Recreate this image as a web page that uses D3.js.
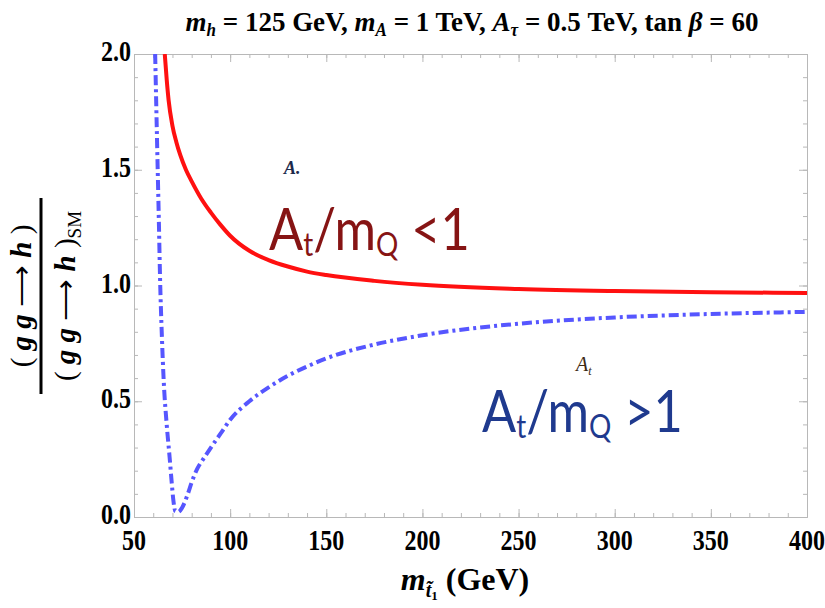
<!DOCTYPE html>
<html>
<head>
<meta charset="utf-8">
<script src="https://cdn.jsdelivr.net/npm/d3@7"></script>
<style>
  body { margin: 0; background: #fff; }
  svg text { font-family: "Liberation Serif", "Times New Roman", serif; }
  .frame line, .frame path { stroke: #b8b8b8; }
</style>
</head>
<body>
<div id="chart"></div>
<script>
// ratio vs stop mass
const redX = [66, 67, 68, 70, 72, 74, 77, 80, 85, 90, 95, 100, 110, 120, 130, 140, 150, 175, 200, 250, 300, 350, 400];
const redY = [2.0, 1.89, 1.80, 1.69, 1.62, 1.565, 1.50, 1.45, 1.375, 1.315, 1.262, 1.215, 1.15, 1.11, 1.082, 1.06, 1.045, 1.02, 1.003, 0.985, 0.976, 0.971, 0.968];

const blueX = [61, 62, 63, 63.5, 64.5, 65.5, 67, 68.5, 69.5, 70.5, 71.5, 73, 75, 78, 80, 83, 86, 90, 95, 100, 110, 120, 130, 140, 150, 175, 200, 250, 300, 350, 400];
const blueY = [2.0, 1.62, 1.25, 1.05, 0.78, 0.58, 0.40, 0.26, 0.16, 0.07, 0.025, 0.022, 0.04, 0.10, 0.15, 0.21, 0.25, 0.30, 0.36, 0.42, 0.50, 0.56, 0.61, 0.65, 0.685, 0.745, 0.785, 0.835, 0.862, 0.877, 0.886];

const xTicks = [50, 100, 150, 200, 250, 300, 350, 400];
const yTicks = [0.0, 0.5, 1.0, 1.5, 2.0];

const c = {svgW: 825, svgH: 608, pad: {l: 134, r: 18, t: 54, b: 91}};
const W = c.svgW - c.pad.l - c.pad.r;
const H = c.svgH - c.pad.t - c.pad.b;

const svg = d3.select('#chart').append('svg')
  .attr('width', c.svgW)
  .attr('height', c.svgH);

const chart = svg.append('g')
  .attr('transform', `translate(${c.pad.l}, ${c.pad.t})`);

const x = d3.scaleLinear().domain([50, 400]).range([0, W]);
const y = d3.scaleLinear().domain([0, 2]).range([H, 0]);

// frame with inward ticks on all four sides (minor + major)
const minorX = d3.range(50, 401, 10);
const minorY = d3.range(0, 2.001, 0.1);

const frame = chart.append('g').classed('frame', true);
const addAxis = (axis, tr) => frame.append('g').attr('transform', tr).call(axis)
  .call(g => g.selectAll('text').remove());

addAxis(d3.axisBottom(x).tickValues(minorX).tickSize(-4).tickSizeOuter(0), `translate(0, ${H})`);
addAxis(d3.axisBottom(x).tickValues(xTicks).tickSize(-8).tickSizeOuter(0), `translate(0, ${H})`);
addAxis(d3.axisTop(x).tickValues(minorX).tickSize(-4).tickSizeOuter(0), 'translate(0, 0)');
addAxis(d3.axisTop(x).tickValues(xTicks).tickSize(-8).tickSizeOuter(0), 'translate(0, 0)');
addAxis(d3.axisLeft(y).tickValues(minorY).tickSize(-4).tickSizeOuter(0), 'translate(0, 0)');
addAxis(d3.axisLeft(y).tickValues(yTicks).tickSize(-8).tickSizeOuter(0), 'translate(0, 0)');
addAxis(d3.axisRight(y).tickValues(minorY).tickSize(-4).tickSizeOuter(0), `translate(${W}, 0)`);
addAxis(d3.axisRight(y).tickValues(yTicks).tickSize(-8).tickSizeOuter(0), `translate(${W}, 0)`);

// tick labels (bold, slightly tall like the original)
chart.append('g').selectAll('text')
  .data(xTicks)
  .join('text')
  .attr('transform', d => `translate(${x(d)}, ${H + 33}) scale(1, 1.25)`)
  .attr('text-anchor', 'middle')
  .attr('font-size', 24)
  .attr('font-weight', 'bold')
  .text(d => d);

chart.append('g').selectAll('text')
  .data(yTicks)
  .join('text')
  .attr('transform', d => `translate(-3, ${y(d) + 7}) scale(1, 1.2)`)
  .attr('text-anchor', 'end')
  .attr('font-size', 24)
  .attr('font-weight', 'bold')
  .text(d => d.toFixed(1));

// curves
chart.append('clipPath').attr('id', 'plot-clip')
  .append('rect').attr('width', W).attr('height', H);

const line = d3.line()
  .x(d => x(d[0]))
  .y(d => y(d[1]))
  .curve(d3.curveMonotoneX);

chart.append('path')
  .datum(d3.zip(blueX, blueY))
  .attr('clip-path', 'url(#plot-clip)')
  .attr('fill', 'none')
  .attr('stroke', '#5656ff')
  .attr('stroke-width', 4)
  .attr('stroke-dasharray', '10,4,3,4')
  .attr('d', line);

chart.append('path')
  .datum(d3.zip(redX, redY))
  .attr('clip-path', 'url(#plot-clip)')
  .attr('fill', 'none')
  .attr('stroke', '#ff1010')
  .attr('stroke-width', 4)
  .attr('d', line);

// helper for text made of runs with sub/superscripts
const richText = (parent, px, py, runs, attrs, family) => {
  const t = parent.append('text').attr('x', px).attr('y', py);
  Object.entries(attrs || {}).forEach(([k, v]) => t.attr(k, v));
  if (family) t.style('font-family', family);
  runs.forEach(r => {
    const s = t.append('tspan').text(r.t);
    if (r.dy) s.attr('dy', r.dy);
    if (r.size) s.attr('font-size', r.size);
    if (r.style) s.attr('font-style', r.style);
    if (r.weight) s.attr('font-weight', r.weight);
  });
  return t;
};

// title
richText(svg, 0, 0, [
  {t: 'm', style: 'italic'}, {t: 'h', style: 'italic', size: 17, dy: 5},
  {t: ' = 125 GeV,  ', dy: -5},
  {t: 'm', style: 'italic'}, {t: 'A', style: 'italic', size: 17, dy: 5},
  {t: ' = 1 TeV,  ', dy: -5},
  {t: 'A', style: 'italic'}, {t: 'τ', style: 'italic', size: 17, dy: 5},
  {t: ' = 0.5 TeV,  tan ', dy: -5},
  {t: 'β', style: 'italic'},
  {t: ' = 60'},
], {'text-anchor': 'middle', 'font-size': 27, 'font-weight': 'bold', transform: 'translate(472, 31) scale(1, 1.05)'});

// x axis title
richText(svg, 465, 590, [
  {t: 'm', style: 'italic'},
  {t: 't̃', style: 'italic', size: 20, dy: 7},
  {t: '1', size: 13, dy: 3},
  {t: ' (GeV)', dy: -10},
], {'text-anchor': 'middle', 'font-size': 32, 'font-weight': 'bold'});

// y axis title: fraction, rotated
const yl = svg.append('g').attr('transform', 'translate(41, 296) rotate(-90)');
yl.append('line')
  .attr('x1', -98).attr('x2', 98)
  .attr('stroke', '#000').attr('stroke-width', 3);
richText(yl, 0, -10, [
  {t: '( '}, {t: 'g g', style: 'italic', weight: 'bold'}, {t: ' ⟶ '},
  {t: 'h', style: 'italic', weight: 'bold'}, {t: ' )'},
], {'text-anchor': 'middle', 'font-size': 29});
richText(yl, 0, 34, [
  {t: '( '}, {t: 'g g', style: 'italic', weight: 'bold'}, {t: ' ⟶ '},
  {t: 'h', style: 'italic', weight: 'bold'}, {t: ' )'},
  {t: 'SM', size: 19, dy: 6},
], {'text-anchor': 'middle', 'font-size': 29});

// annotations
const sans = 'Lato, "Open Sans", sans-serif';
richText(svg, 284, 174, [{t: 'A.'}],
  {'font-size': 18, 'font-style': 'italic', 'font-weight': 'bold', fill: '#1c2a4c'});
richText(svg, 0, 0, [
  {t: 'A'}, {t: 't', size: 32, dy: 6}, {t: '/m', dy: -6}, {t: 'Q', size: 32, dy: 6},
  {t: ' <1', dy: -6},
], {'font-size': 58, fill: '#861414', transform: 'translate(269, 250) scale(0.87, 1)'}, sans);

richText(svg, 576, 371, [{t: 'A'}, {t: 't', size: 12, dy: 4}],
  {'font-size': 20, 'font-style': 'italic', fill: '#3d2a14'});
richText(svg, 0, 0, [
  {t: 'A'}, {t: 't', size: 32, dy: 6}, {t: '/m', dy: -6}, {t: 'Q', size: 32, dy: 6},
  {t: ' >1', dy: -6},
], {'font-size': 58, fill: '#1f3a8e', transform: 'translate(482, 432) scale(0.87, 1)'}, sans);
</script>
</body>
</html>
